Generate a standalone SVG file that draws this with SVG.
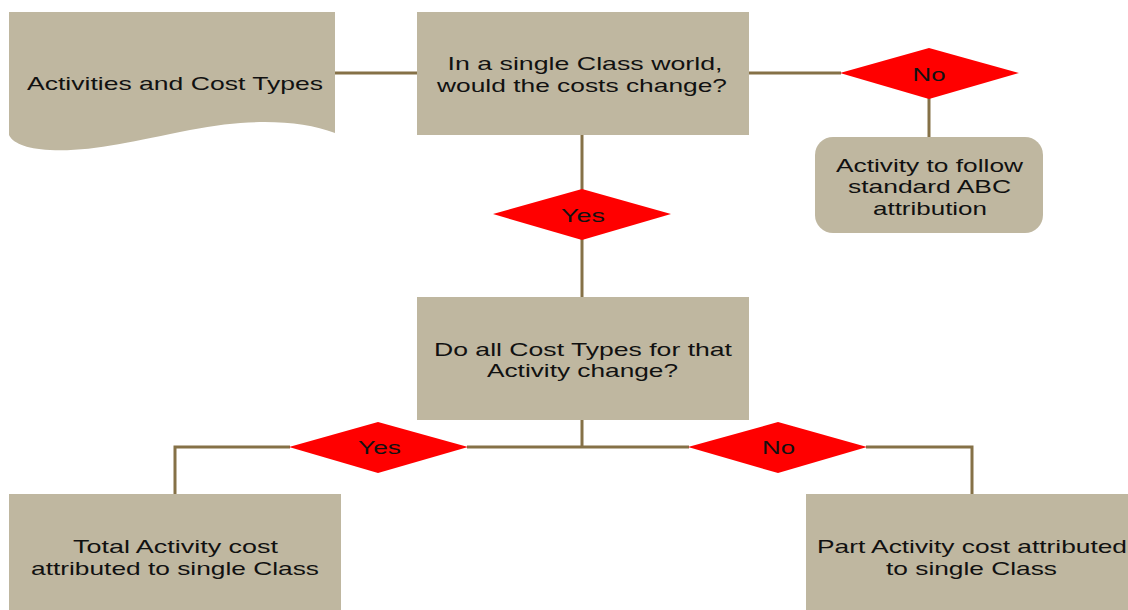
<svg xmlns="http://www.w3.org/2000/svg" width="1128" height="610" viewBox="0 0 1128 610">
  <style>
    .box { fill: #BFB7A0; }
    .dec { fill: #FF0000; }
    .link { fill: none; stroke: #857147; stroke-width: 3; }
    text { font-family: "Liberation Sans", Arial, sans-serif; font-size: 19px; fill: #111; text-anchor: middle; }
  </style>
  <rect width="1128" height="610" fill="#FFFFFF"/>

  <!-- connectors -->
  <g id="connectors">
    <path class="link" d="M335,73 H417"/>
    <path class="link" d="M749,73 H841"/>
    <path class="link" d="M929,98 V138"/>
    <path class="link" d="M582,135 V190"/>
    <path class="link" d="M582,239 V297"/>
    <path class="link" d="M582,420 V447"/>
    <path class="link" d="M467,447 H689"/>
    <path class="link" d="M290,447 H175 V494"/>
    <path class="link" d="M866,447 H972 V494"/>
  </g>

  <!-- input document -->
  <g id="activities">
    <path class="box" d="M9,12 H335 V133 C300,120 250,118 190,130 C130,142 90,152 50,150 C25,149 12,142 9,135 Z"/>
    <text x="175" y="90" textLength="296" lengthAdjust="spacingAndGlyphs">Activities and Cost Types</text>
  </g>

  <!-- first question -->
  <g id="q-single-class">
    <rect class="box" x="417" y="12" width="332" height="123"/>
    <text x="585" y="70" textLength="275" lengthAdjust="spacingAndGlyphs">In a single Class world,</text>
    <text x="582" y="92" textLength="290" lengthAdjust="spacingAndGlyphs">would the costs change?</text>
  </g>

  <g id="d-no-top">
    <polygon class="dec" points="840,73 929,48 1019,73 929,99"/>
    <text x="929" y="81" textLength="33" lengthAdjust="spacingAndGlyphs">No</text>
  </g>

  <g id="standard-abc">
    <rect class="box" x="815" y="137" width="228" height="96" rx="18" ry="18"/>
    <text x="929.5" y="172" textLength="187" lengthAdjust="spacingAndGlyphs">Activity to follow</text>
    <text x="929.5" y="193" textLength="163" lengthAdjust="spacingAndGlyphs">standard ABC</text>
    <text x="930" y="215" textLength="114" lengthAdjust="spacingAndGlyphs">attribution</text>
  </g>

  <g id="d-yes-top">
    <polygon class="dec" points="493,214 582,189 671,214 582,240"/>
    <text x="583" y="222" textLength="44" lengthAdjust="spacingAndGlyphs">Yes</text>
  </g>

  <!-- second question -->
  <g id="q-all-cost-types">
    <rect class="box" x="417" y="297" width="332" height="123"/>
    <text x="583" y="356" textLength="298" lengthAdjust="spacingAndGlyphs">Do all Cost Types for that</text>
    <text x="582.5" y="377" textLength="191" lengthAdjust="spacingAndGlyphs">Activity change?</text>
  </g>

  <g id="d-yes-bottom">
    <polygon class="dec" points="289,447 378,422 468,447 378,473"/>
    <text x="379.5" y="454" textLength="43" lengthAdjust="spacingAndGlyphs">Yes</text>
  </g>

  <g id="d-no-bottom">
    <polygon class="dec" points="688,447 778,422 867,447 778,473"/>
    <text x="778.5" y="454" textLength="33" lengthAdjust="spacingAndGlyphs">No</text>
  </g>

  <!-- outcomes -->
  <g id="total-activity">
    <rect class="box" x="9" y="494" width="332" height="130"/>
    <text x="175.5" y="553" textLength="205" lengthAdjust="spacingAndGlyphs">Total Activity cost</text>
    <text x="175" y="575" textLength="288" lengthAdjust="spacingAndGlyphs">attributed to single Class</text>
  </g>

  <g id="part-activity">
    <rect class="box" x="806" y="494" width="332" height="130"/>
    <text x="972" y="553" textLength="310" lengthAdjust="spacingAndGlyphs">Part Activity cost attributed</text>
    <text x="971.5" y="575" textLength="171" lengthAdjust="spacingAndGlyphs">to single Class</text>
  </g>
</svg>
